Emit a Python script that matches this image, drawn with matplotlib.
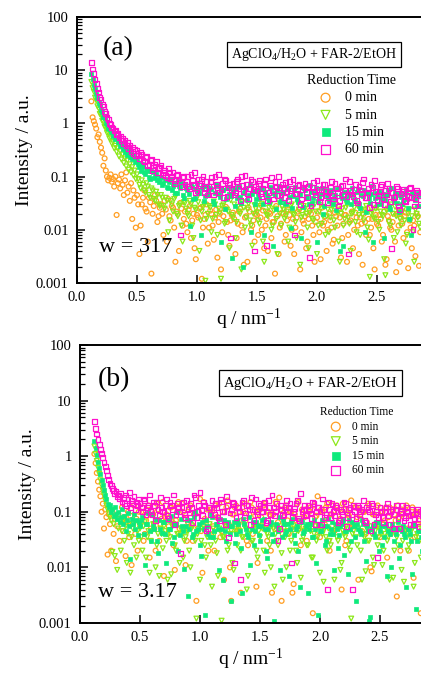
import matplotlib
matplotlib.use("Agg")
import matplotlib.pyplot as plt
import numpy as np

plt.rcParams['font.family'] = ['Liberation Serif', 'DejaVu Serif']
plt.rcParams['mathtext.fontset'] = 'custom'
plt.rcParams['mathtext.rm'] = 'Liberation Serif'
plt.rcParams['mathtext.it'] = 'Liberation Serif:italic'
plt.rcParams['mathtext.bf'] = 'Liberation Serif:bold'

# ---------------- data ----------------
q_low = [0.12, 0.13, 0.14, 0.15, 0.16, 0.17, 0.18, 0.19, 0.20, 0.21,
         0.22, 0.23, 0.24, 0.25, 0.26, 0.27, 0.28, 0.29, 0.30, 0.31,
         0.32, 0.33, 0.34, 0.35, 0.36, 0.37, 0.38, 0.39, 0.40, 0.41,
         0.42, 0.43, 0.44, 0.45, 0.46, 0.47, 0.48, 0.49]
q_high = [0.50, 0.52, 0.54, 0.56, 0.58, 0.60, 0.62, 0.64, 0.66, 0.68,
          0.70, 0.72, 0.74, 0.76, 0.78, 0.80, 0.82, 0.84, 0.86, 0.88,
          0.90, 0.92, 0.94, 0.96, 0.98, 1.00, 1.02, 1.04, 1.06, 1.08,
          1.10, 1.12, 1.14, 1.16, 1.18, 1.20, 1.22, 1.24, 1.26, 1.28,
          1.30, 1.32, 1.34, 1.36, 1.38, 1.40, 1.42, 1.44, 1.46, 1.48,
          1.50, 1.52, 1.54, 1.56, 1.58, 1.60, 1.62, 1.64, 1.66, 1.68,
          1.70, 1.72, 1.74, 1.76, 1.78, 1.80, 1.82, 1.84, 1.86, 1.88,
          1.90, 1.92, 1.94, 1.96, 1.98, 2.00, 2.02, 2.04, 2.06, 2.08,
          2.10, 2.12, 2.14, 2.16, 2.18, 2.20, 2.22, 2.24, 2.26, 2.28,
          2.30, 2.32, 2.34, 2.36, 2.38, 2.40, 2.42, 2.44, 2.46, 2.48,
          2.50, 2.52, 2.54, 2.56, 2.58, 2.60, 2.62, 2.64, 2.66, 2.68,
          2.70, 2.72, 2.74, 2.76, 2.78, 2.80, 2.82, 2.84, 2.86]
q_mid = [0.51, 0.53, 0.55, 0.57, 0.59, 0.61, 0.63, 0.65, 0.67, 0.69,
         0.71, 0.73, 0.75, 0.77, 0.79, 0.81, 0.83, 0.85, 0.87, 0.89,
         0.91, 0.93, 0.95, 0.97, 0.99, 1.01, 1.03, 1.05, 1.07, 1.09,
         1.11, 1.13, 1.15, 1.17, 1.19, 1.21, 1.23, 1.25, 1.27, 1.29,
         1.31, 1.33, 1.35, 1.37, 1.39, 1.41, 1.43, 1.45, 1.47, 1.49,
         1.51, 1.53, 1.55, 1.57, 1.59, 1.61, 1.63, 1.65, 1.67, 1.69,
         1.71, 1.73, 1.75, 1.77, 1.79, 1.81, 1.83, 1.85, 1.87, 1.89,
         1.91, 1.93, 1.95, 1.97, 1.99, 2.01, 2.03, 2.05, 2.07, 2.09,
         2.11, 2.13, 2.15, 2.17, 2.19, 2.21, 2.23, 2.25, 2.27, 2.29,
         2.31, 2.33, 2.35, 2.37, 2.39, 2.41, 2.43, 2.45, 2.47, 2.49,
         2.51, 2.53, 2.55, 2.57, 2.59, 2.61, 2.63, 2.65, 2.67, 2.69,
         2.71, 2.73, 2.75, 2.77, 2.79, 2.81, 2.83, 2.85]

labels = ["0 min", "5 min", "15 min", "60 min"]

# ----- panel (a): w = 317 -----
a_0min_low = [2.6, 1.3, 1.1, 0.95, 0.8, 0.55, 0.62, 0.45, 0.35, 0.28,
              0.16, 0.22, 0.13, 0.1, 0.085, 0.095, 0.11, 0.08, 0.09, 0.065,
              0.1, 0.019, 0.075, 0.088, 0.06, 0.11, 0.07, 0.045, 0.085, 0.12,
              0.05, 0.065, 0.035, 0.075, 0.016, 0.055, 0.04, 0.011]
a_0min_high = [0.045, 0.0035, 0.03, 0.055, 0.022, 0.04, 0.0015, 0.028, 0.035, 0.018,
               0.03, 0.008, 0.024, 0.038, 0.015, 0.026, 0.0025, 0.02, 0.032, 0.012,
               0.022, 0.009, 0.028, 0.015, 0.0045, 0.019, 0.025, 0.0012, 0.016, 0.03,
               0.011, 0.02, 0.0065, 0.024, 0.014, 0.0018, 0.018, 0.027, 0.008, 0.015,
               0.021, 0.0035, 0.013, 0.025, 0.009, 0.017, 0.0025, 0.022, 0.012, 0.006,
               0.019, 0.026, 0.01, 0.0045, 0.016, 0.021, 0.007, 0.014, 0.028, 0.0035,
               0.013, 0.02, 0.008, 0.024, 0.005, 0.016, 0.011, 0.022, 0.0018, 0.015,
               0.018, 0.006, 0.023, 0.012, 0.0025, 0.017, 0.009, 0.026, 0.014, 0.004,
               0.02, 0.011, 0.0065, 0.018, 0.024, 0.003, 0.013, 0.019, 0.008, 0.015,
               0.0045, 0.021, 0.012, 0.017, 0.0022, 0.014, 0.025, 0.008, 0.016, 0.0018,
               0.013, 0.019, 0.006, 0.022, 0.0028, 0.015, 0.01, 0.02, 0.0016, 0.012,
               0.017, 0.007, 0.021, 0.0019, 0.011, 0.015, 0.0032, 0.018, 0.009]
a_0min_mid = [0.03, 0.012, 0.04, 0.025, 0.006, 0.033, 0.02, 0.045, 0.014, 0.026,
              0.02, 0.035, 0.006, 0.018, 0.028, 0.011, 0.022, 0.004, 0.025, 0.016,
              0.013, 0.024, 0.007, 0.02, 0.0028, 0.017, 0.026, 0.011, 0.019, 0.0055,
              0.023, 0.012, 0.017, 0.003, 0.02, 0.009, 0.025, 0.014, 0.005, 0.019,
              0.016, 0.007, 0.022, 0.012, 0.0022, 0.018, 0.026, 0.01, 0.015, 0.02,
              0.008, 0.017, 0.023, 0.012, 0.004, 0.02, 0.014, 0.0015, 0.018, 0.011,
              0.021, 0.006, 0.015, 0.019, 0.01, 0.0035, 0.017, 0.024, 0.009, 0.013,
              0.0045, 0.016, 0.02, 0.008, 0.014, 0.022, 0.0028, 0.012, 0.018, 0.01,
              0.015, 0.0055, 0.021, 0.012, 0.017, 0.007, 0.019, 0.0025, 0.014, 0.022,
              0.01, 0.017, 0.0035, 0.013, 0.02, 0.008, 0.016, 0.011, 0.0045, 0.019,
              0.012, 0.016, 0.008, 0.0022, 0.018, 0.011, 0.014, 0.006, 0.02, 0.0025,
              0.013, 0.018, 0.009, 0.015, 0.0045, 0.012, 0.02, 0.0021]

a_5min_low = [6.0, 4.6, 3.95, 3.05, 2.7, 2.1, 1.92, 1.5, 1.42, 1.12,
              1.08, 0.86, 0.84, 0.66, 0.67, 0.52, 0.54, 0.42, 0.45, 0.34,
              0.38, 0.29, 0.34, 0.24, 0.3, 0.21, 0.26, 0.18, 0.22, 0.155,
              0.2, 0.135, 0.17, 0.12, 0.15, 0.105, 0.13, 0.09]
a_5min_high = [0.11, 0.07, 0.085, 0.055, 0.075, 0.045, 0.06, 0.038, 0.052, 0.03,
               0.045, 0.028, 0.04, 0.009, 0.035, 0.022, 0.042, 0.018, 0.03, 0.006,
               0.032, 0.02, 0.035, 0.012, 0.026, 0.04, 0.004, 0.022, 0.03, 0.016,
               0.028, 0.009, 0.034, 0.019, 0.025, 0.0012, 0.03, 0.014, 0.022, 0.036,
               0.017, 0.007, 0.027, 0.02, 0.033, 0.011, 0.024, 0.015, 0.005, 0.029,
               0.021, 0.013, 0.031, 0.0025, 0.019, 0.026, 0.01, 0.023, 0.016, 0.035,
               0.012, 0.024, 0.018, 0.006, 0.028, 0.02, 0.014, 0.032, 0.0022, 0.019,
               0.025, 0.011, 0.021, 0.016, 0.03, 0.0035, 0.022, 0.013, 0.027, 0.018,
               0.009, 0.024, 0.015, 0.029, 0.006, 0.02, 0.012, 0.026, 0.017, 0.004,
               0.021, 0.014, 0.028, 0.008, 0.019, 0.024, 0.011, 0.0013, 0.022, 0.016,
               0.026, 0.01, 0.019, 0.0028, 0.023, 0.014, 0.03, 0.007, 0.018, 0.022,
               0.012, 0.025, 0.0055, 0.02, 0.015, 0.009, 0.024, 0.017, 0.011]
a_5min_mid = [0.09, 0.06, 0.07, 0.05, 0.065, 0.04, 0.055, 0.035, 0.045, 0.028,
              0.04, 0.025, 0.035, 0.015, 0.03, 0.038, 0.02, 0.028, 0.012, 0.033,
              0.025, 0.018, 0.03, 0.007, 0.024, 0.033, 0.015, 0.027, 0.0011, 0.02,
              0.026, 0.016, 0.03, 0.008, 0.021, 0.028, 0.013, 0.024, 0.0045, 0.019,
              0.03, 0.014, 0.022, 0.0018, 0.026, 0.017, 0.031, 0.012, 0.02, 0.025,
              0.015, 0.028, 0.006, 0.022, 0.018, 0.03, 0.012, 0.025, 0.0035, 0.02,
              0.027, 0.016, 0.022, 0.011, 0.03, 0.019, 0.007, 0.024, 0.017, 0.028,
              0.02, 0.0045, 0.026, 0.015, 0.022, 0.012, 0.029, 0.018, 0.008, 0.024,
              0.017, 0.027, 0.011, 0.021, 0.0025, 0.025, 0.016, 0.03, 0.013, 0.02,
              0.026, 0.009, 0.019, 0.023, 0.015, 0.028, 0.0065, 0.02, 0.017, 0.025,
              0.014, 0.022, 0.018, 0.0014, 0.025, 0.012, 0.02, 0.027, 0.009, 0.016,
              0.022, 0.015, 0.008, 0.024, 0.018, 0.0025, 0.02, 0.013]

a_15min_low = [8.5, 6.8, 5.2, 4.4, 3.5, 3.05, 2.45, 2.2, 1.78, 1.62,
               1.33, 1.24, 1.02, 0.96, 0.82, 0.8, 0.69, 0.7, 0.58, 0.6,
               0.5, 0.53, 0.44, 0.47, 0.38, 0.42, 0.33, 0.37, 0.29, 0.33,
               0.26, 0.3, 0.23, 0.27, 0.21, 0.25, 0.19, 0.22]
a_15min_high = [0.2, 0.15, 0.17, 0.12, 0.14, 0.1, 0.13, 0.095, 0.11, 0.08,
                0.1, 0.075, 0.085, 0.06, 0.09, 0.068, 0.05, 0.082, 0.062, 0.045,
                0.07, 0.055, 0.012, 0.065, 0.04, 0.075, 0.05, 0.06, 0.035, 0.068,
                0.045, 0.058, 0.03, 0.072, 0.048, 0.006, 0.055, 0.038, 0.062, 0.044,
                0.052, 0.028, 0.065, 0.042, 0.002, 0.058, 0.036, 0.07, 0.047, 0.03,
                0.055, 0.04, 0.062, 0.008, 0.045, 0.033, 0.06, 0.05, 0.025, 0.068,
                0.038, 0.052, 0.03, 0.058, 0.011, 0.044, 0.064, 0.034, 0.048, 0.027,
                0.056, 0.04, 0.07, 0.032, 0.05, 0.006, 0.042, 0.06, 0.028, 0.046,
                0.035, 0.055, 0.04, 0.024, 0.062, 0.045, 0.005, 0.038, 0.052, 0.03,
                0.048, 0.036, 0.058, 0.026, 0.044, 0.009, 0.05, 0.032, 0.066, 0.04,
                0.03, 0.054, 0.038, 0.007, 0.046, 0.028, 0.06, 0.035, 0.05, 0.022,
                0.042, 0.033, 0.055, 0.026, 0.008, 0.045, 0.036, 0.05, 0.028]
a_15min_mid = [0.17, 0.13, 0.15, 0.11, 0.125, 0.09, 0.12, 0.1, 0.085, 0.095,
               0.07, 0.09, 0.065, 0.08, 0.055, 0.072, 0.05, 0.066, 0.075, 0.04,
               0.06, 0.048, 0.07, 0.038, 0.058, 0.05, 0.008, 0.066, 0.044, 0.054,
               0.06, 0.035, 0.05, 0.068, 0.042, 0.056, 0.025, 0.062, 0.048, 0.003,
               0.058, 0.04, 0.066, 0.032, 0.05, 0.062, 0.045, 0.009, 0.054, 0.038,
               0.048, 0.06, 0.03, 0.052, 0.04, 0.065, 0.005, 0.046, 0.056, 0.034,
               0.05, 0.032, 0.06, 0.042, 0.026, 0.055, 0.038, 0.047, 0.007, 0.06,
               0.044, 0.03, 0.052, 0.04, 0.062, 0.035, 0.048, 0.02, 0.056, 0.04,
               0.05, 0.03, 0.045, 0.058, 0.004, 0.04, 0.052, 0.034, 0.046, 0.06,
               0.038, 0.052, 0.03, 0.045, 0.056, 0.022, 0.04, 0.048, 0.006, 0.05,
               0.042, 0.03, 0.048, 0.036, 0.055, 0.025, 0.04, 0.05, 0.032, 0.045,
               0.03, 0.048, 0.038, 0.016, 0.05, 0.04, 0.028, 0.045]

a_60min_low = [14.0, 10.5, 8.7, 6.7, 5.7, 4.5, 3.9, 3.1, 2.8, 2.3,
               2.05, 1.7, 1.55, 1.3, 1.2, 1.0, 0.95, 0.83, 0.82, 0.72,
               0.73, 0.62, 0.65, 0.54, 0.58, 0.48, 0.52, 0.42, 0.47, 0.38,
               0.43, 0.34, 0.39, 0.3, 0.36, 0.27, 0.33, 0.25]
a_60min_high = [0.31, 0.22, 0.26, 0.19, 0.24, 0.17, 0.21, 0.15, 0.19, 0.14,
                0.16, 0.12, 0.105, 0.14, 0.09, 0.12, 0.085, 0.11, 0.008, 0.095,
                0.07, 0.1, 0.06, 0.085, 0.12, 0.055, 0.075, 0.09, 0.05, 0.08,
                0.065, 0.095, 0.045, 0.07, 0.11, 0.058, 0.04, 0.085, 0.062, 0.007,
                0.075, 0.05, 0.09, 0.035, 0.068, 0.105, 0.048, 0.06, 0.08, 0.004,
                0.055, 0.085, 0.042, 0.07, 0.005, 0.05, 0.095, 0.038, 0.064, 0.1,
                0.045, 0.06, 0.078, 0.036, 0.055, 0.088, 0.047, 0.068, 0.03, 0.058,
                0.075, 0.04, 0.003, 0.062, 0.052, 0.085, 0.034, 0.058, 0.07, 0.044,
                0.05, 0.08, 0.038, 0.06, 0.028, 0.066, 0.046, 0.09, 0.0035, 0.054,
                0.042, 0.07, 0.032, 0.056, 0.078, 0.04, 0.05, 0.026, 0.062, 0.085,
                0.036, 0.052, 0.07, 0.03, 0.045, 0.06, 0.0045, 0.04, 0.065, 0.028,
                0.048, 0.058, 0.034, 0.042, 0.062, 0.01, 0.038, 0.05, 0.03]
a_60min_mid = [0.25, 0.29, 0.2, 0.23, 0.16, 0.2, 0.13, 0.17, 0.12, 0.15,
               0.11, 0.13, 0.095, 0.12, 0.1, 0.075, 0.105, 0.09, 0.065, 0.1,
               0.08, 0.065, 0.11, 0.072, 0.05, 0.09, 0.067, 0.1, 0.06, 0.045,
               0.08, 0.055, 0.1, 0.062, 0.05, 0.075, 0.09, 0.042, 0.07, 0.058,
               0.045, 0.082, 0.06, 0.1, 0.052, 0.07, 0.038, 0.088, 0.057, 0.066,
               0.074, 0.048, 0.06, 0.09, 0.035, 0.068, 0.054, 0.08, 0.044, 0.062,
               0.07, 0.04, 0.052, 0.082, 0.06, 0.008, 0.048, 0.072, 0.038, 0.064,
               0.05, 0.066, 0.028, 0.078, 0.045, 0.058, 0.04, 0.07, 0.052, 0.033,
               0.062, 0.044, 0.074, 0.05, 0.036, 0.068, 0.056, 0.042, 0.08, 0.047,
               0.058, 0.035, 0.066, 0.048, 0.09, 0.04, 0.06, 0.07, 0.03, 0.052,
               0.045, 0.065, 0.038, 0.055, 0.075, 0.034, 0.05, 0.042, 0.06, 0.024,
               0.052, 0.036, 0.045, 0.06, 0.04, 0.028, 0.055, 0.044]

# ----- panel (b): w = 3.17 -----
b_0min_low = [1.1, 0.75, 0.5, 0.35, 0.25, 0.19, 0.1, 0.14, 0.05, 0.11,
              0.08, 0.017, 0.09, 0.06, 0.02, 0.1, 0.04, 0.075, 0.013, 0.055,
              0.09, 0.03, 0.07, 0.12, 0.045, 0.08, 0.016, 0.065, 0.1, 0.035,
              0.085, 0.011, 0.06, 0.13, 0.04, 0.075, 0.02, 0.1]
b_0min_high = [0.06, 0.12, 0.04, 0.085, 0.015, 0.1, 0.05, 0.14, 0.03, 0.075,
               0.007, 0.09, 0.055, 0.12, 0.025, 0.07, 0.15, 0.04, 0.1, 0.011,
               0.065, 0.13, 0.03, 0.09, 0.05, 0.17, 0.008, 0.075, 0.11, 0.04,
               0.1, 0.02, 0.08, 0.14, 0.045, 0.006, 0.12, 0.06, 0.0025, 0.09,
               0.13, 0.05, 0.0035, 0.1, 0.07, 0.025, 0.15, 0.04, 0.085, 0.012,
               0.11, 0.06, 0.14, 0.03, 0.09, 0.0035, 0.12, 0.05, 0.18, 0.0025,
               0.08, 0.13, 0.04, 0.1, 0.005, 0.07, 0.15, 0.025, 0.09, 0.11,
               0.05, 0.12, 0.0015, 0.08, 0.19, 0.035, 0.1, 0.06, 0.14, 0.02,
               0.09, 0.045, 0.13, 0.07, 0.004, 0.11, 0.03, 0.085, 0.16, 0.055,
               0.12, 0.006, 0.075, 0.1, 0.04, 0.14, 0.01, 0.09, 0.06, 0.13,
               0.035, 0.1, 0.07, 0.015, 0.12, 0.05, 0.09, 0.003, 0.08, 0.11,
               0.045, 0.13, 0.02, 0.085, 0.0065, 0.1, 0.06, 0.0015, 0.075]
b_0min_mid = [0.1, 0.03, 0.07, 0.13, 0.05, 0.09, 0.02, 0.11, 0.06, 0.15,
              0.08, 0.04, 0.12, 0.065, 0.009, 0.1, 0.05, 0.14, 0.075, 0.03,
              0.12, 0.06, 0.09, 0.0025, 0.1, 0.045, 0.15, 0.07, 0.02, 0.11,
              0.055, 0.13, 0.08, 0.035, 0.1, 0.065, 0.16, 0.01, 0.09, 0.12,
              0.045, 0.1, 0.07, 0.14, 0.03, 0.09, 0.12, 0.06, 0.0045, 0.11,
              0.08, 0.13, 0.05, 0.1, 0.02, 0.09, 0.15, 0.065, 0.11, 0.04,
              0.12, 0.07, 0.1, 0.0035, 0.09, 0.14, 0.05, 0.11, 0.08, 0.03,
              0.1, 0.06, 0.13, 0.085, 0.045, 0.11, 0.07, 0.12, 0.03, 0.09,
              0.13, 0.05, 0.1, 0.075, 0.14, 0.025, 0.09, 0.11, 0.06, 0.12,
              0.08, 0.11, 0.045, 0.1, 0.065, 0.13, 0.0085, 0.09, 0.12, 0.055,
              0.1, 0.06, 0.12, 0.08, 0.04, 0.11, 0.07, 0.13, 0.02, 0.09,
              0.11, 0.05, 0.085, 0.12, 0.035, 0.095, 0.07, 0.1]

b_5min_low = [1.5, 1.1, 0.82, 0.62, 0.48, 0.37, 0.3, 0.24, 0.2, 0.16,
              0.13, 0.11, 0.095, 0.08, 0.07, 0.019, 0.06, 0.016, 0.075, 0.009,
              0.05, 0.065, 0.02, 0.045, 0.07, 0.03, 0.055, 0.012, 0.04, 0.06,
              0.008, 0.035, 0.05, 0.025, 0.065, 0.015, 0.045, 0.03]
b_5min_high = [0.05, 0.02, 0.065, 0.035, 0.008, 0.045, 0.06, 0.025, 0.007, 0.04,
               0.055, 0.03, 0.045, 0.0075, 0.06, 0.02, 0.04, 0.05, 0.015, 0.035,
               0.045, 0.01, 0.055, 0.03, 0.04, 0.006, 0.05, 0.025, 0.035, 0.06,
               0.0045, 0.04, 0.018, 0.05, 0.0011, 0.035, 0.055, 0.025, 0.045, 0.009,
               0.04, 0.055, 0.02, 0.035, 0.05, 0.007, 0.045, 0.03, 0.06, 0.015,
               0.035, 0.05, 0.008, 0.04, 0.025, 0.055, 0.0045, 0.03, 0.045, 0.018,
               0.05, 0.01, 0.04, 0.03, 0.055, 0.02, 0.045, 0.0065, 0.035, 0.05,
               0.025, 0.045, 0.015, 0.055, 0.035, 0.008, 0.04, 0.05, 0.02, 0.03,
               0.045, 0.006, 0.035, 0.05, 0.012, 0.04, 0.055, 0.025, 0.0012, 0.045,
               0.035, 0.05, 0.02, 0.04, 0.0085, 0.03, 0.055, 0.015, 0.045, 0.025,
               0.05, 0.011, 0.04, 0.03, 0.006, 0.045, 0.02, 0.035, 0.05, 0.009,
               0.0055, 0.04, 0.025, 0.045, 0.0045, 0.035, 0.05, 0.015, 0.03]
b_5min_mid = [0.035, 0.055, 0.015, 0.045, 0.03, 0.06, 0.01, 0.04, 0.05, 0.022,
              0.045, 0.006, 0.035, 0.055, 0.025, 0.04, 0.012, 0.05, 0.03, 0.045,
              0.02, 0.05, 0.035, 0.0012, 0.045, 0.03, 0.055, 0.015, 0.04, 0.025,
              0.05, 0.03, 0.007, 0.045, 0.035, 0.055, 0.02, 0.04, 0.012, 0.05,
              0.025, 0.045, 0.035, 0.055, 0.004, 0.04, 0.03, 0.05, 0.02, 0.045,
              0.055, 0.02, 0.045, 0.035, 0.01, 0.05, 0.04, 0.025, 0.055, 0.006,
              0.035, 0.045, 0.02, 0.05, 0.04, 0.012, 0.055, 0.03, 0.045, 0.025,
              0.05, 0.015, 0.04, 0.03, 0.055, 0.045, 0.0055, 0.035, 0.05, 0.025,
              0.04, 0.055, 0.03, 0.009, 0.045, 0.035, 0.05, 0.02, 0.04, 0.055,
              0.025, 0.045, 0.006, 0.035, 0.05, 0.03, 0.04, 0.011, 0.055, 0.035,
              0.04, 0.02, 0.05, 0.035, 0.045, 0.0065, 0.04, 0.025, 0.05, 0.03,
              0.045, 0.02, 0.035, 0.05, 0.012, 0.04, 0.03, 0.045]

b_15min_low = [1.9, 1.4, 1.05, 0.8, 0.62, 0.48, 0.38, 0.3, 0.25, 0.2,
               0.17, 0.14, 0.12, 0.13, 0.1, 0.11, 0.085, 0.12, 0.09, 0.075,
               0.1, 0.065, 0.08, 0.11, 0.06, 0.085, 0.045, 0.07, 0.095, 0.055,
               0.014, 0.075, 0.06, 0.09, 0.05, 0.07, 0.038, 0.065]
b_15min_high = [0.055, 0.08, 0.011, 0.06, 0.045, 0.09, 0.05, 0.03, 0.07, 0.042,
                0.065, 0.012, 0.05, 0.085, 0.035, 0.06, 0.02, 0.075, 0.045, 0.055,
                0.003, 0.07, 0.04, 0.1, 0.05, 0.025, 0.065, 0.0014, 0.055, 0.035,
                0.08, 0.045, 0.06, 0.009, 0.05, 0.07, 0.03, 0.055, 0.0025, 0.065,
                0.04, 0.06, 0.022, 0.075, 0.05, 0.035, 0.011, 0.065, 0.045, 0.055,
                0.03, 0.07, 0.05, 0.015, 0.06, 0.04, 0.0011, 0.055, 0.08, 0.035,
                0.06, 0.045, 0.007, 0.065, 0.038, 0.05, 0.02, 0.07, 0.042, 0.055,
                0.0035, 0.06, 0.035, 0.05, 0.0014, 0.045, 0.07, 0.025, 0.055, 0.04,
                0.065, 0.009, 0.05, 0.038, 0.06, 0.017, 0.045, 0.07, 0.03, 0.055,
                0.0025, 0.05, 0.04, 0.06, 0.013, 0.045, 0.0013, 0.055, 0.035, 0.065,
                0.045, 0.025, 0.055, 0.007, 0.04, 0.06, 0.03, 0.05, 0.015, 0.045,
                0.04, 0.0045, 0.05, 0.03, 0.06, 0.0018, 0.045, 0.035, 0.012]
b_15min_mid = [0.07, 0.04, 0.06, 0.095, 0.03, 0.055, 0.075, 0.018, 0.05, 0.065,
               0.04, 0.07, 0.05, 0.028, 0.06, 0.1, 0.038, 0.055, 0.0095, 0.07,
               0.05, 0.035, 0.08, 0.045, 0.06, 0.016, 0.05, 0.07, 0.04, 0.09,
               0.035, 0.06, 0.05, 0.075, 0.006, 0.045, 0.065, 0.04, 0.055, 0.028,
               0.07, 0.045, 0.0035, 0.06, 0.04, 0.08, 0.05, 0.025, 0.065, 0.038,
               0.055, 0.075, 0.02, 0.05, 0.065, 0.03, 0.06, 0.045, 0.009, 0.07,
               0.04, 0.06, 0.05, 0.075, 0.028, 0.055, 0.0045, 0.065, 0.045, 0.06,
               0.05, 0.035, 0.07, 0.012, 0.06, 0.045, 0.055, 0.03, 0.075, 0.05,
               0.04, 0.06, 0.022, 0.055, 0.07, 0.045, 0.0075, 0.05, 0.065, 0.035,
               0.06, 0.045, 0.07, 0.03, 0.055, 0.0011, 0.05, 0.04, 0.065, 0.02,
               0.055, 0.035, 0.06, 0.045, 0.01, 0.05, 0.04, 0.065, 0.025, 0.055,
               0.035, 0.05, 0.04, 0.0075, 0.055, 0.03, 0.045, 0.02]

b_60min_low = [4.2, 3.2, 2.5, 2.0, 1.6, 1.3, 1.1, 0.95, 0.78, 0.65,
               0.55, 0.45, 0.38, 0.32, 0.3, 0.26, 0.24, 0.21, 0.23, 0.19,
               0.2, 0.17, 0.21, 0.15, 0.18, 0.14, 0.2, 0.13, 0.17, 0.22,
               0.12, 0.16, 0.14, 0.19, 0.11, 0.15, 0.13, 0.17]
b_60min_high = [0.14, 0.1, 0.16, 0.12, 0.2, 0.09, 0.13, 0.15, 0.085, 0.12,
                0.1, 0.17, 0.075, 0.13, 0.2, 0.09, 0.12, 0.018, 0.15, 0.08,
                0.11, 0.14, 0.065, 0.18, 0.1, 0.22, 0.085, 0.13, 0.05, 0.12,
                0.16, 0.09, 0.12, 0.07, 0.15, 0.1, 0.19, 0.035, 0.11, 0.14,
                0.08, 0.12, 0.006, 0.16, 0.095, 0.13, 0.06, 0.11, 0.17, 0.09,
                0.13, 0.1, 0.15, 0.07, 0.12, 0.2, 0.085, 0.14, 0.05, 0.11,
                0.09, 0.16, 0.12, 0.012, 0.1, 0.14, 0.075, 0.21, 0.11, 0.085,
                0.13, 0.095, 0.15, 0.06, 0.12, 0.1, 0.17, 0.08, 0.004, 0.11,
                0.14, 0.085, 0.12, 0.07, 0.1, 0.15, 0.055, 0.11, 0.09, 0.13,
                0.075, 0.12, 0.1, 0.16, 0.065, 0.11, 0.045, 0.13, 0.09, 0.015,
                0.12, 0.08, 0.1, 0.14, 0.06, 0.11, 0.09, 0.13, 0.05, 0.1,
                0.07, 0.12, 0.085, 0.11, 0.06, 0.095, 0.075, 0.1, 0.065]
b_60min_mid = [0.12, 0.17, 0.09, 0.13, 0.1, 0.15, 0.07, 0.11, 0.18, 0.1,
               0.13, 0.085, 0.15, 0.11, 0.06, 0.14, 0.1, 0.12, 0.09, 0.16,
               0.095, 0.12, 0.2, 0.08, 0.13, 0.11, 0.15, 0.045, 0.12, 0.09,
               0.11, 0.14, 0.08, 0.17, 0.1, 0.06, 0.13, 0.095, 0.15, 0.012,
               0.12, 0.1, 0.15, 0.08, 0.13, 0.11, 0.18, 0.07, 0.1, 0.14,
               0.1, 0.12, 0.065, 0.16, 0.09, 0.12, 0.1, 0.03, 0.13, 0.085,
               0.12, 0.1, 0.14, 0.08, 0.115, 0.16, 0.07, 0.1, 0.13, 0.09,
               0.11, 0.075, 0.14, 0.1, 0.12, 0.06, 0.11, 0.09, 0.15, 0.08,
               0.1, 0.13, 0.065, 0.11, 0.09, 0.14, 0.08, 0.12, 0.004, 0.1,
               0.13, 0.09, 0.11, 0.07, 0.12, 0.1, 0.14, 0.06, 0.1, 0.08,
               0.1, 0.065, 0.12, 0.085, 0.1, 0.05, 0.11, 0.075, 0.095, 0.13,
               0.08, 0.1, 0.06, 0.09, 0.075, 0.11, 0.055, 0.085]

panel_a = [(a_0min_low, a_0min_high, a_0min_mid),
           (a_5min_low, a_5min_high, a_5min_mid),
           (a_15min_low, a_15min_high, a_15min_mid),
           (a_60min_low, a_60min_high, a_60min_mid)]
panel_b = [(b_0min_low, b_0min_high, b_0min_mid),
           (b_5min_low, b_5min_high, b_5min_mid),
           (b_15min_low, b_15min_high, b_15min_mid),
           (b_60min_low, b_60min_high, b_60min_mid)]

for lo, hi, mi in panel_a + panel_b:
    assert len(lo) == len(q_low), len(lo)
    assert len(hi) == len(q_high), len(hi)
    assert len(mi) == len(q_mid), len(mi)

q_all = np.array(q_low + q_high + q_mid)

colors = ['#FF9E22', '#8CE81A', '#0EEA7C', '#FF10CC']
markers = ['o', 'v', 's', 's']
filled = [False, False, True, False]

ytick_vals = [0.001, 0.01, 0.1, 1, 10, 100]
ytick_labels = ["0.001", "0.01", "0.1", "1", "10", "100"]
xtick_vals = [0.0, 0.5, 1.0, 1.5, 2.0, 2.5]
xtick_labels = ["0.0", "0.5", "1.0", "1.5", "2.0", "2.5"]

W, H = 421, 673
fig = plt.figure(figsize=(W / 100, H / 100), dpi=100)

def make_axes(left, top, bottom):
    return fig.add_axes([left / W, 1 - bottom / H, (W - left) / W, (bottom - top) / H])

def draw_panel(ax, data, xmax, tag, wtext, tag_pos, w_pos, box_pos, box_fs,
               leg_anchor, leg_fs, leg_labelspacing):
    for (lo, hi, mi), c, m, f, lab in zip(data, colors, markers, filled, labels):
        y = np.array(lo + hi + mi)
        if f:
            ax.scatter(q_all, y, s=12, marker=m, facecolors=c, edgecolors=c,
                       linewidths=0.5, label=lab, zorder=2)
        else:
            ax.scatter(q_all, y, s=12, marker=m, facecolors='none', edgecolors=c,
                       linewidths=0.9, label=lab, zorder=2)
    ax.set_yscale('log')
    ax.set_ylim(0.001, 100)
    ax.set_xlim(0, xmax)
    ax.set_yticks(ytick_vals, ytick_labels)
    ax.set_xticks(xtick_vals, xtick_labels)
    ax.tick_params(axis='both', which='major', direction='in', length=6, width=1.1,
                   labelsize=10.5, pad=6, top=False, right=False)
    ax.tick_params(axis='y', which='minor', direction='in', length=3.5, width=0.9,
                   right=False)
    ax.tick_params(axis='x', which='minor', bottom=False, top=False)
    for sp in ['left', 'bottom', 'top']:
        ax.spines[sp].set_linewidth(1.4)
    ax.spines['right'].set_visible(False)
    ax.set_ylabel("Intensity / a.u.", fontsize=14, labelpad=2)
    ax.set_xlabel("q / nm$^{-1}$", fontsize=14, labelpad=2)
    ax.text(tag_pos[0], tag_pos[1], tag, transform=ax.transAxes, fontsize=20,
            ha='left', va='center')
    ax.text(w_pos[0], w_pos[1], wtext, transform=ax.transAxes, fontsize=16,
            ha='left', va='center')
    ax.text(box_pos[0], box_pos[1],
            "AgClO$_{4}$/H$_{2}$O + FAR-2/EtOH", transform=ax.transAxes,
            fontsize=box_fs, ha='center', va='center',
            bbox=dict(boxstyle='square,pad=0.3', facecolor='white',
                      edgecolor='black', linewidth=0.9))
    ax.legend(title="Reduction Time", loc='upper left',
              bbox_to_anchor=leg_anchor, frameon=False,
              fontsize=leg_fs, title_fontsize=leg_fs,
              markerscale=1.85, scatterpoints=1, handlelength=1.0,
              handletextpad=0.9, labelspacing=leg_labelspacing,
              borderpad=0.0, borderaxespad=0.0)

ax_a = make_axes(77, 17, 283)
draw_panel(ax_a, panel_a, (W - 77) / 120.0, "(a)", "w = 317",
           (0.075, 0.88), (0.065, 0.135), (0.69, 0.859), 10,
           (0.668, 0.785), 10, 0.3)

ax_b = make_axes(80, 345, 623)
draw_panel(ax_b, panel_b, (W - 80) / 120.0, "(b)", "w = 3.17",
           (0.052, 0.874), (0.052, 0.108), (0.675, 0.863), 10.5,
           (0.705, 0.78), 8.3, 0.22)

fig.savefig("out.png", dpi=100)
